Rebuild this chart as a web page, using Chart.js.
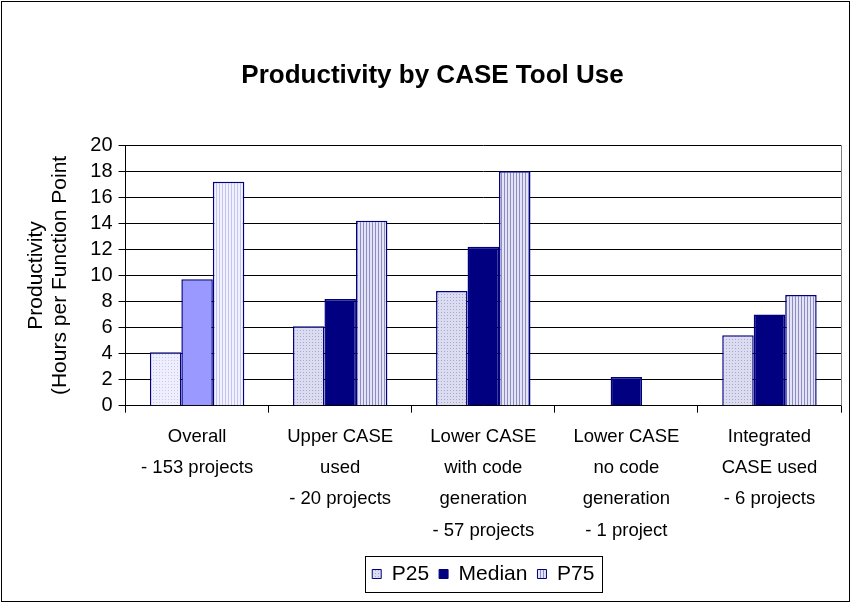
<!DOCTYPE html>
<html>
<head>
<meta charset="utf-8">
<script src="https://cdn.jsdelivr.net/npm/chart.js@4.4.1/dist/chart.umd.min.js"></script>
<style>
  html, body { margin: 0; padding: 0; background: #fff; }
  #wrap { width: 851px; height: 603px; }
</style>
</head>
<body>
<div id="wrap"><canvas id="chart" width="851" height="603"></canvas></div>
<script>
// --- Dados ---
const categories = [
    ['Overall', '- 153 projects'],
    ['Upper CASE', 'used', '- 20 projects'],
    ['Lower CASE', 'with code', 'generation', '- 57 projects'],
    ['Lower CASE', 'no code', 'generation', '- 1 project'],
    ['Integrated', 'CASE used', '- 6 projects']
];
const p25Values = [4.1, 6.1, 8.8, null, 5.4];
const medianValues = [9.7, 8.2, 12.2, 2.2, 7.0];
const p75Values = [17.2, 14.2, 18.0, null, 8.5];
const yTicks = [0, 2, 4, 6, 8, 10, 12, 14, 16, 18, 20];

const navy = '#000080';
const fontFamily = 'Liberation Sans, Arial';
const legendFontSize = 21;
const legendPadding = 10;

// --- Padrões (pontilhado e listrado) ---
function dotPattern(base, dot) {
    const c = document.createElement('canvas');
    c.width = 3; c.height = 3;
    const g = c.getContext('2d');
    g.fillStyle = base; g.fillRect(0, 0, 3, 3);
    g.fillStyle = dot; g.fillRect(0, 0, 1, 1);
    return g.createPattern(c, 'repeat');
}
function stripePattern(base, stripe) {
    const c = document.createElement('canvas');
    c.width = 3; c.height = 3;
    const g = c.getContext('2d');
    g.fillStyle = base; g.fillRect(0, 0, 3, 3);
    g.fillStyle = stripe; g.fillRect(0, 0, 1, 3);
    return g.createPattern(c, 'repeat');
}

const p25Light = dotPattern('#eeeeff', '#c8c8ec');
const p25Dark = dotPattern('#dcdcf0', '#a8a8d4');
const p75Light = stripePattern('#f2f2ff', '#c4c4f4');
const p75Dark = stripePattern('#e4e4f4', '#8c8cc8');

// borda externa + moldura da área do gráfico + caixa da legenda
const framePlugin = {
    id: 'frame',
    afterLayout(chart) {
        // centraliza a legenda sob a área do gráfico (como no Excel)
        const lg = chart.legend;
        const a = chart.chartArea;
        const dx = (a.left + a.right) / 2 - (lg.left + lg.right) / 2;
        lg.left += dx; lg.right += dx;
        const dy = (574 - legendPadding - legendFontSize / 2) - lg.top;
        lg.top += dy; lg.bottom += dy;
    },
    afterDraw(chart) {
        const ctx = chart.ctx;
        const a = chart.chartArea;
        ctx.save();
        ctx.strokeStyle = '#808080';
        ctx.lineWidth = 1;
        ctx.beginPath();
        ctx.moveTo(Math.round(a.right) + 0.5, a.top);
        ctx.lineTo(Math.round(a.right) + 0.5, a.bottom);
        ctx.stroke();
        ctx.strokeStyle = '#000';
        ctx.strokeRect(1.5, 1.5, chart.width - 3, chart.height - 3);
        const lg = chart.legend;
        if (lg && lg.legendHitBoxes.length) {
            const boxes = lg.legendHitBoxes;
            const x0 = boxes[0].left - 7;
            const last = boxes[boxes.length - 1];
            const x1 = last.left + last.width + 8;
            const cy = boxes[0].top + boxes[0].height / 2;
            ctx.strokeRect(Math.round(x0) + 0.5, Math.round(cy - 18) + 0.5, Math.round(x1 - x0), 36);
        }
        ctx.restore();
    }
};

const swatches = [p25Dark, navy, p75Dark];

new Chart(document.getElementById('chart'), {
    type: 'bar',
    data: {
        labels: categories,
        datasets: [
            {
                label: 'P25',
                data: p25Values,
                backgroundColor: [p25Light, p25Dark, p25Dark, p25Dark, p25Dark],
                borderColor: navy,
                borderWidth: 1.5
            },
            {
                label: 'Median',
                data: medianValues,
                backgroundColor: ['#9999ff', navy, navy, navy, navy],
                borderColor: navy,
                borderWidth: 1.5
            },
            {
                label: 'P75',
                data: p75Values,
                backgroundColor: [p75Light, p75Dark, p75Dark, p75Dark, p75Dark],
                borderColor: navy,
                borderWidth: 1.5
            }
        ]
    },
    options: {
        responsive: false,
        animation: false,
        layout: { padding: { left: 24, right: 10, top: 0, bottom: 7 } },
        datasets: { bar: { categoryPercentage: 0.66, barPercentage: 1.0 } },
        plugins: {
            title: {
                display: true,
                text: 'Productivity by CASE Tool Use',
                color: '#000',
                font: { family: fontFamily, size: 26, weight: 'bold' },
                padding: { top: 60, bottom: 54 }
            },
            legend: {
                position: 'bottom',
                labels: {
                    color: '#000',
                    font: { family: fontFamily, size: legendFontSize },
                    boxWidth: 9,
                    boxHeight: 9,
                    padding: legendPadding,
                    generateLabels: () => ['P25', 'Median', 'P75'].map((t, i) => ({
                        text: t,
                        fillStyle: swatches[i],
                        strokeStyle: navy,
                        lineWidth: 1,
                        datasetIndex: i
                    }))
                }
            },
            tooltip: { enabled: false }
        },
        scales: {
            x: {
                grid: { drawOnChartArea: false, drawTicks: true, tickLength: 7, color: '#000' },
                border: { color: '#000' },
                ticks: {
                    color: '#000',
                    maxRotation: 0,
                    autoSkip: false,
                    font: { family: fontFamily, size: 18.5, lineHeight: 1.68 },
                    padding: 9
                }
            },
            y: {
                min: 0,
                max: 20,
                afterBuildTicks: axis => { axis.ticks = yTicks.map(v => ({ value: v })); },
                grid: { color: '#000', tickLength: 7 },
                border: { color: '#000' },
                ticks: {
                    color: '#000',
                    autoSkip: false,
                    font: { family: fontFamily, size: 20 },
                    padding: 6
                },
                title: {
                    display: true,
                    text: ['Productivity', '(Hours per Function Point'],
                    color: '#000',
                    font: { family: fontFamily, size: 21, lineHeight: 1.15 },
                    padding: { top: 0, bottom: 12 }
                }
            }
        }
    },
    plugins: [framePlugin]
});
</script>
</body>
</html>
